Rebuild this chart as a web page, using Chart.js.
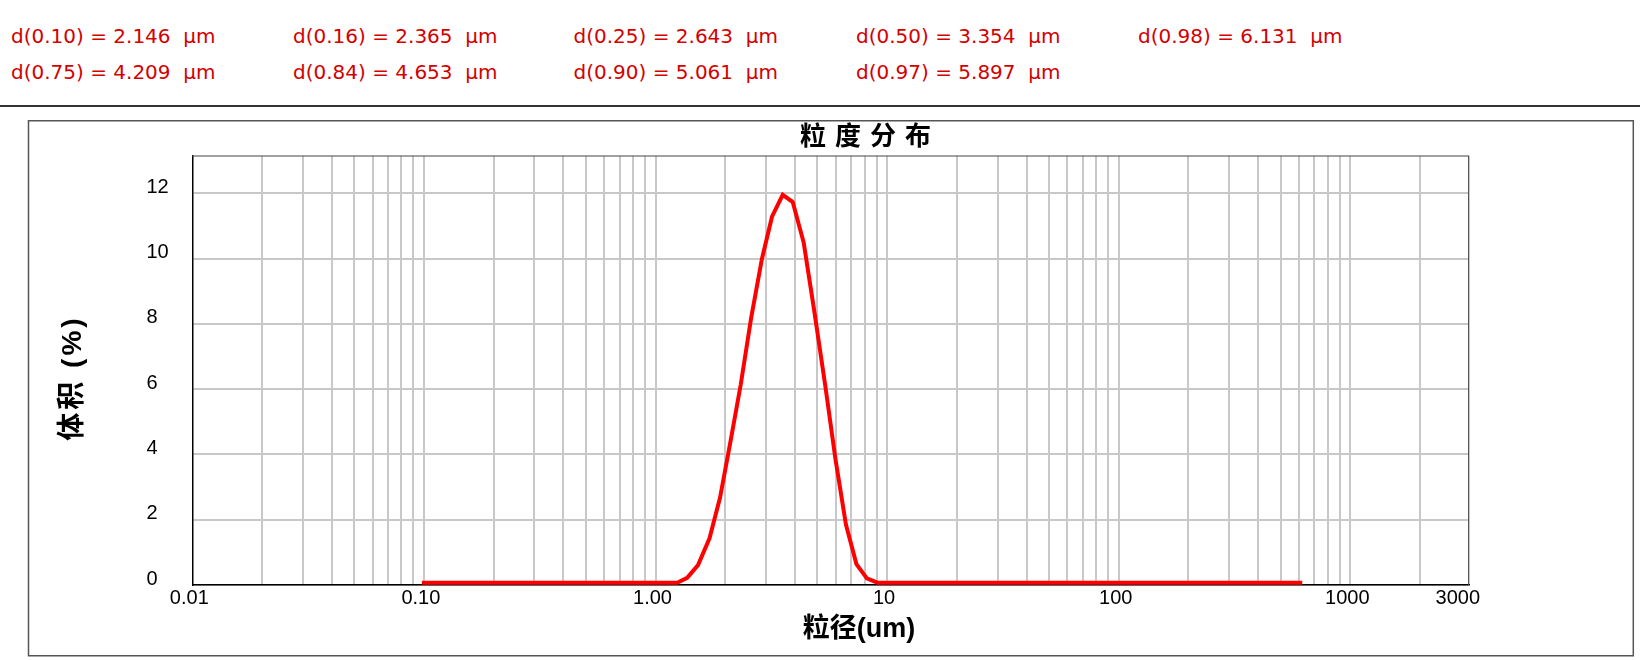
<!DOCTYPE html>
<html><head><meta charset="utf-8">
<script src="https://cdn.jsdelivr.net/npm/chart.js@4.4.1/dist/chart.umd.min.js"></script>
<style>
html,body{margin:0;padding:0;background:#fff;}
body{width:1640px;height:660px;position:relative;overflow:hidden;}
#c{position:absolute;left:0;top:0;}
.hd{position:absolute;font-family:'DejaVu Sans',sans-serif;font-size:20px;line-height:20px;color:#d40000;white-space:pre;}
#sep{position:absolute;left:0;top:105px;width:1640px;height:2px;background:#333;}
</style></head>
<body>
<div id="hdr"></div>
<div id="sep"></div>
<canvas id="c" width="1640" height="660"></canvas>
<script>
// ---- data ----
const statNames  = ['d(0.10)','d(0.16)','d(0.25)','d(0.50)','d(0.98)','d(0.75)','d(0.84)','d(0.90)','d(0.97)'];
const statValues = ['2.146','2.365','2.643','3.354','6.131','4.209','4.653','5.061','5.897'];
const statUnit = 'μm';

const sizes   = [0.098, 1.241, 1.370, 1.526, 1.711, 1.900, 2.107, 2.334, 2.584, 2.879, 3.184, 3.543, 3.913, 4.366, 4.857, 5.416, 5.983, 6.641, 7.371, 8.181, 9.081, 620];
const volumes = [0.07, 0.07, 0.22, 0.61, 1.43, 2.68, 4.39, 6.14, 8.15, 9.98, 11.28, 11.95, 11.73, 10.48, 8.35, 6.07, 3.86, 1.85, 0.64, 0.20, 0.07, 0.07];

const xTickValues = [0.01, 0.1, 1, 10, 100, 1000, 3000];
const xTickLabels = ['0.01', '0.10', '1.00', '10', '100', '1000', '3000'];
const yTickValues = [0, 2, 4, 6, 8, 10, 12];

const chartTitle = '粒度分布';
const xTitle = '粒径(um)';
const yTitle = '体积 (%)';

// ---- header (statistics) ----
const hdr = document.getElementById('hdr');
const colX = [11, 293, 573.5, 856, 1138];
const rowTop = [26, 61.8];
const rowCounts = [5, 4];
let k = 0;
rowCounts.forEach((n, r) => {
  for (let c = 0; c < n; c++, k++) {
    const d = document.createElement('div');
    d.className = 'hd';
    d.style.left = colX[c] + 'px';
    d.style.top = rowTop[r] + 'px';
    d.textContent = statNames[k] + ' = ' + statValues[k] + '  ' + statUnit;
    hdr.appendChild(d);
  }
});

// ---- grid positions for the log axis ----
const gridValues = [];
[0.01, 0.1, 1, 10, 100, 1000].forEach(dec => {
  for (let m = 1; m <= 9; m++) { const v = m * dec; if (v <= 2000) gridValues.push(v); }
});
gridValues.push(3000);
const same = (a, b) => Math.abs(Math.log10(a) - Math.log10(b)) < 1e-6;
const labelFor = v => { const i = xTickValues.findIndex(t => same(t, v)); return i >= 0 ? xTickLabels[i] : ''; };
const noGrid = v => same(v, 0.01) || same(v, 3000);

const tickFont = {family: "'Liberation Sans', Arial, sans-serif", size: 20};

const decor = {
  id: 'decor',
  afterDraw(chart) {
    const ctx = chart.ctx, a = chart.chartArea;
    ctx.save();
    // outer box
    ctx.strokeStyle = '#555';
    ctx.lineWidth = 1.5;
    ctx.strokeRect(28.5, 120.75, 1604.8, 535);
    // plot top / right edges
    ctx.strokeStyle = '#444';
    ctx.lineWidth = 1.2;
    ctx.beginPath();
    ctx.moveTo(a.left, a.top); ctx.lineTo(a.right, a.top); ctx.lineTo(a.right, a.bottom);
    ctx.stroke();
    ctx.fillStyle = '#000';
    ctx.textBaseline = 'middle';
    // main title
    ctx.font = "bold 26px 'Noto Sans CJK SC', sans-serif";
    ctx.letterSpacing = '9px';
    ctx.textAlign = 'left';
    ctx.fillText(chartTitle, 800, 135);
    // x title
    ctx.letterSpacing = '0px';
    ctx.font = "bold 27px 'Liberation Sans', 'Noto Sans CJK SC', sans-serif";
    ctx.textAlign = 'center';
    ctx.fillText(xTitle, 859, 630);
    // y title
    ctx.translate(73, 378);
    ctx.rotate(-Math.PI / 2);
    ctx.font = "bold 28px 'Liberation Sans', 'Noto Sans CJK SC', sans-serif";
    ctx.letterSpacing = '3px';
    ctx.fillText(yTitle, 0, 0);
    ctx.restore();
  }
};

new Chart(document.getElementById('c'), {
  type: 'line',
  data: {
    datasets: [{
      data: sizes.map((s, i) => ({x: s, y: volumes[i]})),
      borderColor: '#ff0000',
      borderWidth: 4,
      pointRadius: 0,
      tension: 0,
      fill: false,
      borderJoinStyle: 'miter'
    }]
  },
  options: {
    responsive: false,
    animation: false,
    devicePixelRatio: 1,
    layout: {padding: {left: 146.5, top: 156, right: 171.3, bottom: 35}},
    plugins: {legend: {display: false}, title: {display: false}, tooltip: {enabled: false}},
    scales: {
      x: {
        type: 'logarithmic',
        min: 0.01, max: 3245,
        afterBuildTicks: s => { s.ticks = gridValues.map(v => ({value: v})); },
        afterFit: s => { s.height = 40; },
        grid: {color: c => (c.tick && noGrid(c.tick.value)) ? 'rgba(0,0,0,0)' : '#c8c8c8', lineWidth: 2, drawTicks: false},
        border: {color: '#000', width: 1.5},
        ticks: {autoSkip: false, maxRotation: 0, minRotation: 0, padding: 1, labelOffset: -3, color: '#000', font: tickFont,
                callback: v => labelFor(v)}
      },
      y: {
        min: 0, max: 13.14,
        afterBuildTicks: s => { s.ticks = yTickValues.map(v => ({value: v})); },
        afterFit: s => { s.width = 45.8; },
        grid: {color: '#c8c8c8', lineWidth: 2, drawTicks: false},
        border: {color: '#000', width: 1.5},
        ticks: {crossAlign: 'far', padding: 9, labelOffset: -6, color: '#000', font: tickFont}
      }
    }
  },
  plugins: [decor]
});
</script>
</body></html>
